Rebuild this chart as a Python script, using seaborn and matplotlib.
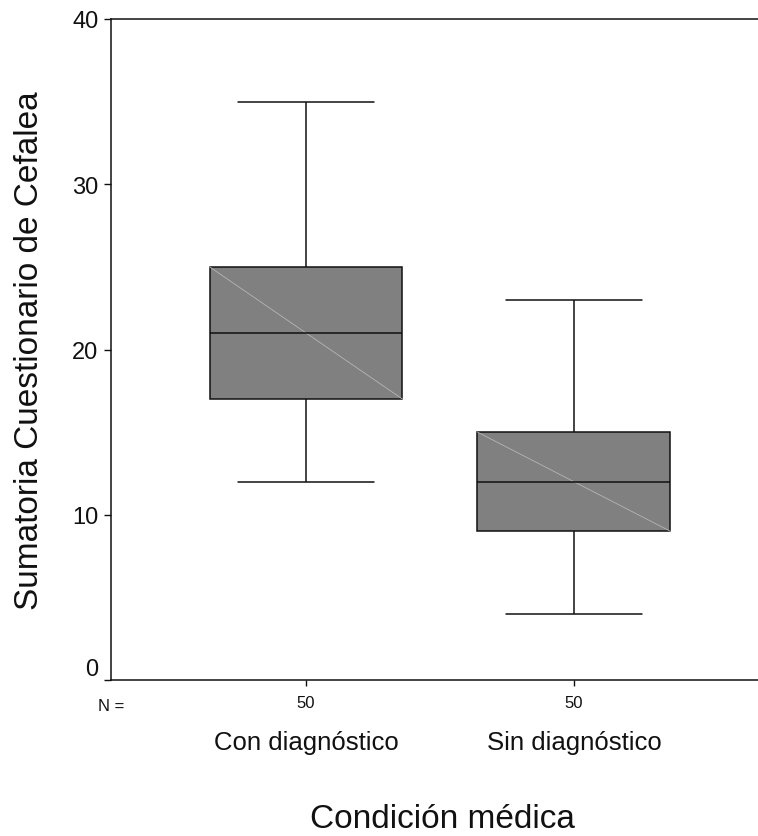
import numpy as np
import pandas as pd
import seaborn as sns
import matplotlib.pyplot as plt

# resumen de cinco números (mín, Q1, mediana, Q3, máx)
grupos = ['Con diagnóstico', 'Sin diagnóstico']
con_diag = [12, 17, 21, 25, 35]
sin_diag = [4, 9, 12, 15, 23]
n_casos = [50, 50]
y_ticks = [0, 10, 20, 30, 40]

df = pd.DataFrame({
    'grupo': [grupos[0]] * len(con_diag) + [grupos[1]] * len(sin_diag),
    'valor': con_diag + sin_diag,
})

sns.set_style('white')
plt.rcParams['font.family'] = ['Liberation Sans', 'DejaVu Sans']

fig = plt.figure(figsize=(7.58, 8.37), dpi=100)
ax = fig.add_axes([111 / 758, 1 - 681 / 837, 1 - 111 / 758, (681 - 20) / 837])

ancho = 0.72
sns.boxplot(data=df, x='grupo', y='valor', order=grupos, color='#808080',
            saturation=1, width=ancho, linecolor='#111111', linewidth=1.1,
            whis=1.5, fliersize=0, capwidths=0.51, ax=ax)

# línea diagonal clara dentro de cada caja (estilo SPSS)
for i, vals in enumerate([con_diag, sin_diag]):
    q1, q3 = np.percentile(vals, [25, 75])
    ax.plot([i - ancho / 2, i + ancho / 2], [q3, q1], color='#b5b5b5',
            lw=0.6, zorder=2.05)

ax.set_xlim(-0.728, 1.687)
ax.set_ylim(0, 40)
ax.set_yticks(y_ticks)
ax.set_yticklabels([str(t) for t in y_ticks], fontsize=17)
ax.set_xticks(range(len(grupos)))
ax.set_xticklabels([str(n) for n in n_casos], fontsize=12)
ax.tick_params(axis='y', direction='out', length=5, width=1, pad=4, left=True, colors='#111111')
ax.tick_params(axis='x', direction='out', length=4, width=1, pad=7, bottom=True, colors='#111111')
for lab in ax.get_yticklabels():
    if lab.get_text() == '0':
        lab.set_va('bottom')

for side in ['left', 'top', 'bottom']:
    ax.spines[side].set_visible(True)
    ax.spines[side].set_color('#111111')
    ax.spines[side].set_linewidth(1.1)
ax.spines['right'].set_visible(False)

# nombres de los grupos bajo los N
for i, g in enumerate(grupos):
    ax.annotate(g, xy=(i, 0), xycoords=('data', 'axes fraction'),
                xytext=(0, -69 * 0.72), textcoords='offset points',
                ha='center', va='baseline', fontsize=18.5, color='#111111')
ax.annotate('N =', xy=(0, 0), xycoords='axes fraction',
            xytext=(0, -30 * 0.72), textcoords='offset points',
            ha='center', va='baseline', fontsize=12, color='#111111')

ax.set_ylabel('Sumatoria Cuestionario de Cefalea', fontsize=24, color='#111111')
ax.yaxis.set_label_coords(-0.102, 0.5)
ax.set_xlabel('Condición médica', fontsize=24, color='#111111')
ax.xaxis.set_label_coords(0.513, -0.186)

fig.savefig('out.png', dpi=100)
